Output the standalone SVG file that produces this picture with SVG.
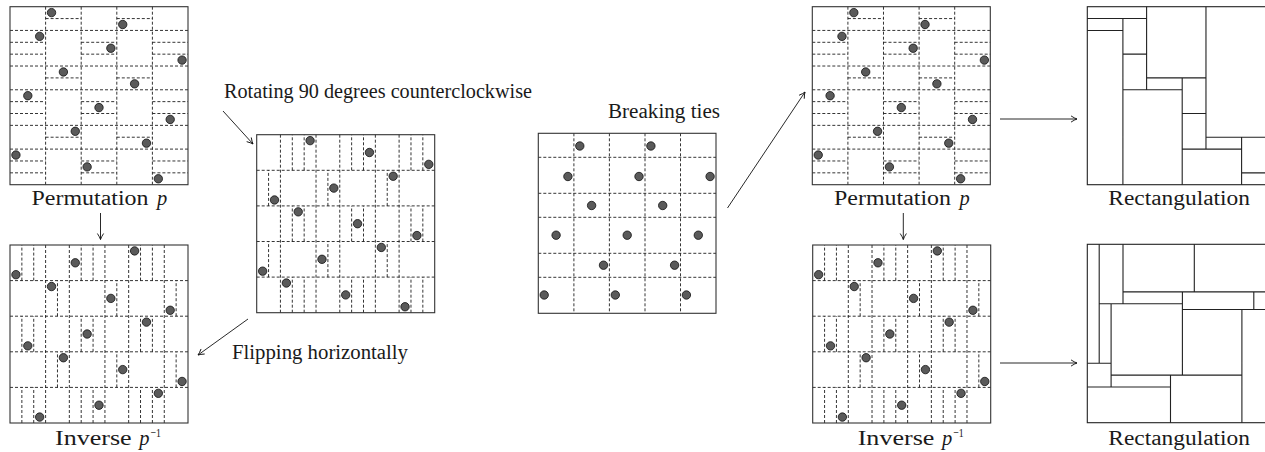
<svg xmlns="http://www.w3.org/2000/svg" width="1265" height="452" viewBox="0 0 1265 452">
  <style>
    .bg { fill: #fff; }
    .frame { fill: none; stroke: #333; stroke-width: 1.1; }
    .dash { fill: none; stroke: #111; stroke-width: 0.85; stroke-dasharray: 3 2; }
    .pt { fill: #5a5a5a; stroke: #111; stroke-width: 0.8; }
    .seg { fill: none; stroke: #222; stroke-width: 1.1; }
    .arrow { fill: none; stroke: #111; stroke-width: 0.9; marker-end: url(#tip); }
    .lbl { font-family: "Liberation Serif", "Times New Roman", serif; font-size: 20.5px; fill: #1a1a1a; }
    .it { font-style: italic; }
    .sup { font-size: 13.5px; }
  </style>
  <defs>
    <marker id="tip" markerWidth="9" markerHeight="9" refX="7" refY="4.5" orient="auto" markerUnits="userSpaceOnUse">
      <path d="M1,1.4 Q4.5,3.7 7,4.5 Q4.5,5.3 1,7.6" fill="none" stroke="#111" stroke-width="0.9"/>
    </marker>
    <!-- 15x15 slot grid of the permutation, slot = 178/15 -->
    <g id="perm">
      <rect class="bg" x="0" y="0" width="178" height="178"/>
      <!-- column groups and tie-broken row groups -->
      <path class="dash" d="M35.6,0V178M71.2,0V178M106.8,0V178M142.4,0V178M0,23.73H178M0,59.33H178M0,83.07H178M0,118.67H178M0,142.4H178"/>
      <!-- sub-rows inside the cells that hold a point -->
      <path class="dash" d="M35.6,11.87H71.2M106.8,11.87H142.4M0,35.6H35.6M71.2,35.6H106.8M142.4,35.6H178M0,47.47H35.6M71.2,47.47H106.8M142.4,47.47H178M35.6,71.2H71.2M106.8,71.2H142.4M0,94.93H35.6M71.2,94.93H106.8M142.4,94.93H178M0,106.8H35.6M71.2,106.8H106.8M142.4,106.8H178M35.6,130.53H71.2M106.8,130.53H142.4M0,154.27H35.6M71.2,154.27H106.8M142.4,154.27H178M0,166.13H35.6M71.2,166.13H106.8M142.4,166.13H178"/>
      <rect class="frame" x="0" y="0" width="178" height="178"/>
      <circle class="pt" cx="41.53" cy="5.93" r="4.2"/>
      <circle class="pt" cx="112.73" cy="17.8" r="4.2"/>
      <circle class="pt" cx="29.67" cy="29.67" r="4.2"/>
      <circle class="pt" cx="100.87" cy="41.53" r="4.2"/>
      <circle class="pt" cx="172.07" cy="53.4" r="4.2"/>
      <circle class="pt" cx="53.4" cy="65.27" r="4.2"/>
      <circle class="pt" cx="124.6" cy="77.13" r="4.2"/>
      <circle class="pt" cx="17.8" cy="89" r="4.2"/>
      <circle class="pt" cx="89" cy="100.87" r="4.2"/>
      <circle class="pt" cx="160.2" cy="112.73" r="4.2"/>
      <circle class="pt" cx="65.27" cy="124.6" r="4.2"/>
      <circle class="pt" cx="136.47" cy="136.47" r="4.2"/>
      <circle class="pt" cx="5.93" cy="148.33" r="4.2"/>
      <circle class="pt" cx="77.13" cy="160.2" r="4.2"/>
      <circle class="pt" cx="148.33" cy="172.07" r="4.2"/>
    </g>
  </defs>

  <rect x="0" y="0" width="1265" height="452" fill="#fff"/>

  <g id="perm-left">
    <use href="#perm" transform="translate(10,6.7)"/>
    <text class="lbl" x="31.5" y="205" textLength="117" lengthAdjust="spacingAndGlyphs">Permutation</text>
    <text class="lbl it" x="157" y="205">p</text>
  </g>

  <g id="rotated">
    <use href="#perm" transform="matrix(0,-1,1,0,256.7,312.7)"/>
  </g>

  <g id="inverse-left">
    <use href="#perm" transform="matrix(0,-1,-1,0,188,423)"/>
    <text class="lbl" x="55" y="445" textLength="76.7" lengthAdjust="spacingAndGlyphs">Inverse</text>
    <text class="lbl it" x="139.3" y="445">p</text>
    <text class="lbl sup" x="150.5" y="437" textLength="10.5" lengthAdjust="spacingAndGlyphs">−1</text>
  </g>

  <g id="ties">
    <rect class="bg" x="538.3" y="133.3" width="177.7" height="180"/>
    <path class="dash" d="M573.9,133.3V313.3M609.4,133.3V313.3M645,133.3V313.3M680.5,133.3V313.3M538.3,157.3H716M538.3,193.3H716M538.3,217.3H716M538.3,253.3H716M538.3,277.3H716"/>
    <rect class="frame" x="538.3" y="133.3" width="177.7" height="180"/>
    <circle class="pt" cx="579.8" cy="146" r="4.2"/>
    <circle class="pt" cx="650.9" cy="146" r="4.2"/>
    <circle class="pt" cx="567.9" cy="176.5" r="4.2"/>
    <circle class="pt" cx="639" cy="176.5" r="4.2"/>
    <circle class="pt" cx="710.1" cy="176.5" r="4.2"/>
    <circle class="pt" cx="591.6" cy="205.5" r="4.2"/>
    <circle class="pt" cx="662.7" cy="205.5" r="4.2"/>
    <circle class="pt" cx="556.1" cy="235.2" r="4.2"/>
    <circle class="pt" cx="627.2" cy="235.2" r="4.2"/>
    <circle class="pt" cx="698.3" cy="235.2" r="4.2"/>
    <circle class="pt" cx="603.5" cy="265.2" r="4.2"/>
    <circle class="pt" cx="674.6" cy="265.2" r="4.2"/>
    <circle class="pt" cx="544.2" cy="295" r="4.2"/>
    <circle class="pt" cx="615.3" cy="295" r="4.2"/>
    <circle class="pt" cx="686.4" cy="295" r="4.2"/>
  </g>

  <g id="perm-right">
    <use href="#perm" transform="translate(812.3,6.7)"/>
    <text class="lbl" x="834" y="205" textLength="117" lengthAdjust="spacingAndGlyphs">Permutation</text>
    <text class="lbl it" x="959.5" y="205">p</text>
  </g>

  <g id="inverse-right">
    <use href="#perm" transform="matrix(0,-1,-1,0,990.7,423)"/>
    <text class="lbl" x="857.7" y="445" textLength="76.7" lengthAdjust="spacingAndGlyphs">Inverse</text>
    <text class="lbl it" x="942" y="445">p</text>
    <text class="lbl sup" x="953.2" y="437" textLength="10.5" lengthAdjust="spacingAndGlyphs">−1</text>
  </g>

  <g id="rect-top">
    <rect class="seg" x="1087.3" y="6.7" width="180" height="178" fill="#fff"/>
    <path class="seg" d="M1087.3,18.57H1146.6M1087.3,30.43H1122.9M1122.9,18.57V184.7M1146.6,6.7V89.77M1122.9,54.17H1146.6M1122.9,89.77H1182.2M1146.6,77.9H1205.97M1205.97,6.7V149.1M1182.2,77.9V184.7M1182.2,113.5H1205.97M1182.2,149.1H1241.6M1205.97,137.23H1267M1241.6,137.23V184.7M1241.6,172.83H1267"/>
    <text class="lbl" x="1108.3" y="205" textLength="141.7" lengthAdjust="spacingAndGlyphs">Rectangulation</text>
  </g>

  <g id="rect-bottom">
    <rect class="seg" x="1087.3" y="244.3" width="180" height="178.4" fill="#fff"/>
    <path class="seg" d="M1099.2,244.3V363.2M1123,244.3V303.8M1194.3,244.3V291.9M1123,291.9H1267M1099.2,303.8H1182.4M1182.4,291.9V375.1M1182.4,309.5H1267M1253.8,291.9V309.5M1111.1,303.8V387M1087.3,363.2H1111.1M1111.1,375.1H1241.9M1241.9,309.5V422.7M1087.3,387H1170.5M1170.5,375.1V422.7"/>
    <text class="lbl" x="1108.3" y="445" textLength="141.7" lengthAdjust="spacingAndGlyphs">Rectangulation</text>
  </g>

  <g id="connectors">
    <line class="arrow" x1="100.5" y1="213" x2="100.5" y2="239.5"/>
    <line class="arrow" x1="903.3" y1="213" x2="903.3" y2="239.5"/>
    <line class="arrow" x1="223" y1="111" x2="253" y2="144"/>
    <line class="arrow" x1="248" y1="319" x2="198" y2="355"/>
    <line class="arrow" x1="727.5" y1="208" x2="805" y2="92"/>
    <line class="arrow" x1="1000" y1="119" x2="1077" y2="119"/>
    <line class="arrow" x1="1000" y1="363" x2="1077" y2="363"/>
    <text class="lbl" x="224" y="98" textLength="308" lengthAdjust="spacingAndGlyphs">Rotating 90 degrees counterclockwise</text>
    <text class="lbl" x="232" y="359" textLength="176" lengthAdjust="spacingAndGlyphs">Flipping horizontally</text>
    <text class="lbl" x="608" y="118" textLength="112" lengthAdjust="spacingAndGlyphs">Breaking ties</text>
  </g>
</svg>
